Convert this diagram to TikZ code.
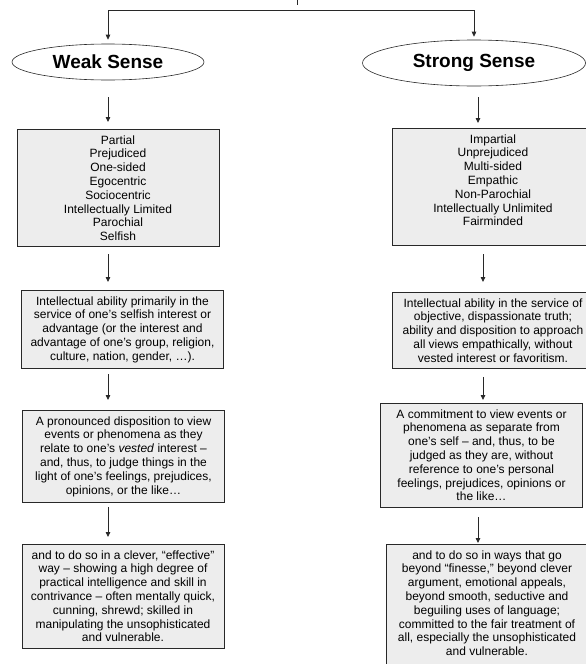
\documentclass[tikz,border=0pt]{standalone}
\usepackage{fontspec}
\setmainfont{Liberation Sans}
\usepackage{tikz}
\usetikzlibrary{shapes.geometric,arrows.meta}

\definecolor{boxfill}{RGB}{237,237,237}
\definecolor{linegray}{RGB}{40,40,40}

\tikzset{
  sense/.style={draw=linegray, line width=0.6pt, ellipse, inner sep=0pt,
                font=\bfseries\fontsize{19}{22}\selectfont},
  trait/.style={draw=linegray, line width=0.8pt, fill=boxfill, anchor=north,
                minimum width=202pt, inner ysep=6pt, align=center,
                font=\fontsize{12}{13.8}\selectfont},
  flow/.style={draw=linegray, line width=0.8pt, -{Triangle[length=5pt,width=4.5pt]}}
}

\begin{document}
\begin{tikzpicture}[x=1pt, y=-1pt]
\useasboundingbox (0,0) rectangle (586,664);
\clip (0,0) rectangle (586,664);

% top split
\coordinate (top) at (297,0);
\coordinate (split) at (297,10);
\draw[linegray, line width=0.8pt, shorten >=5pt] (top) -- (split);

\node[sense, minimum width=192pt, minimum height=36pt] (weak) at (108,62) {Weak Sense};
\node[sense, minimum width=223pt, minimum height=46pt] (strong) at (474,63) {Strong Sense};

\draw[flow, shorten >=4pt] (split) -| (weak.north);
\draw[flow, shorten >=3pt] (split) -| (strong.north);

% arrow columns
\coordinate (lcol) at (108,0);
\coordinate (rcol) at (478,0);
\coordinate (rcolb) at (483,0);

% weak sense column
\node[trait] (partial) at (118,129) {Partial\\Prejudiced\\One-sided\\Egocentric\\Sociocentric\\Intellectually Limited\\Parochial\\Selfish};
\node[trait] (selfserve) at (122.5,290) {Intellectual ability primarily in the\\
service of one’s selfish interest or\\
advantage (or the interest and\\
advantage of one’s group, religion,\\
culture, nation, gender, …).};
\node[trait] (vested) at (123.5,410) {A pronounced disposition to view\\
events or phenomena as they\\
relate to one’s \emph{vested} interest –\\
and, thus, to judge things in the\\
light of one’s feelings, prejudices,\\
opinions, or the like…};
\node[trait] (clever) at (123,544) {and to do so in a clever, “effective”\\
way – showing a high degree of\\
practical intelligence and skill in\\
contrivance – often mentally quick,\\
cunning, shrewd; skilled in\\
manipulating the unsophisticated\\
and vulnerable.};

% strong sense column
\node[trait, text depth=14pt] (impartial) at (493,128) {Impartial\\Unprejudiced\\Multi-sided\\Empathic\\Non-Parochial\\Intellectually Unlimited\\Fairminded};
\node[trait] (truth) at (493,292) {Intellectual ability in the service of\\
objective, dispassionate truth;\\
ability and disposition to approach\\
all views empathically, without\\
vested interest or favoritism.};
\node[trait] (commit) at (481.5,403) {A commitment to view events or\\
phenomena as separate from\\
one’s self – and, thus, to be\\
judged as they are, without\\
reference to one’s personal\\
feelings, prejudices, opinions or\\
the like…};
\node[trait, text depth=22pt] (fair) at (487,544) {and to do so in ways that go\\
beyond “finesse,” beyond clever\\
argument, emotional appeals,\\
beyond smooth, seductive and\\
beguiling uses of language;\\
committed to the fair treatment of\\
all, especially the unsophisticated\\
and vulnerable.};

% connectors
\draw[flow, shorten <=17pt, shorten >=7pt] (weak.south -| lcol) -- (partial.north -| lcol);
\draw[flow, shorten <=7pt, shorten >=8pt] (partial.south -| lcol) -- (selfserve.north -| lcol);
\draw[flow, shorten <=5pt, shorten >=10pt] (selfserve.south -| lcol) -- (vested.north -| lcol);
\draw[flow, shorten <=4pt, shorten >=7pt] (vested.south -| lcol) -- (clever.north -| lcol);

\draw[flow, shorten <=11pt, shorten >=5pt] (strong.south -| rcol) -- (impartial.north -| rcol);
\draw[flow, shorten <=8pt, shorten >=10pt] (impartial.south -| rcolb) -- (truth.north -| rcolb);
\draw[flow, shorten <=8pt, shorten >=3pt] (truth.south -| rcolb) -- (commit.north -| rcolb);
\draw[flow, shorten <=10pt, shorten >=1pt] (commit.south -| rcol) -- (fair.north -| rcol);
\end{tikzpicture}
\end{document}
